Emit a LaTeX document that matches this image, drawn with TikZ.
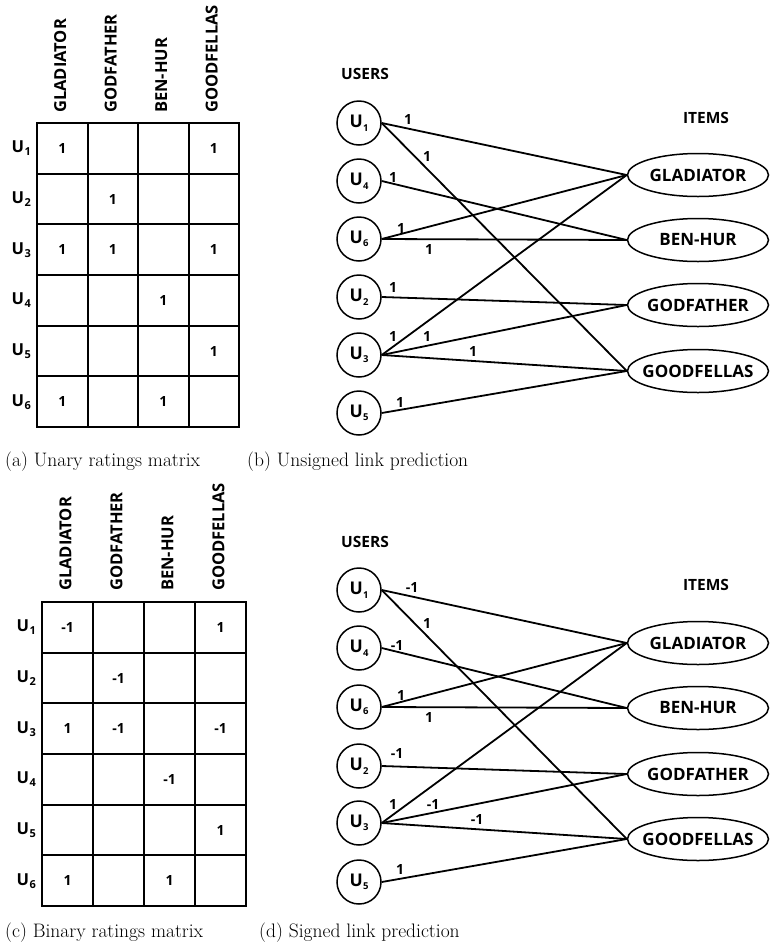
\documentclass[tikz,border=0pt]{standalone}
\usepackage{fontspec}
\newfontfamily\osans{Open Sans}
\usetikzlibrary{shapes.geometric}
\newcommand\usr[3]{U\kern0.3pt\raisebox{-#3pt}{\fontsize{#2}{#2}\selectfont #1}}
\tikzset{
 hdr/.style={font=\osans\bfseries\fontsize{16.5}{16.5}\selectfont, rotate=90, anchor=west, inner sep=0pt},
 cell/.style={draw, line width=2pt, minimum width=50.5pt, minimum height=50.7pt, inner sep=0pt, font=\osans\bfseries\fontsize{14}{14}\selectfont},
 rowlab/.style={font=\osans\bfseries\fontsize{16.5}{16.5}\selectfont, anchor=east, inner sep=0pt},
 user/.style={circle, draw, line width=1.5pt, minimum size=44pt, inner sep=0pt, font=\osans\bfseries\fontsize{17.5}{17.5}\selectfont},
 item/.style={ellipse, draw, line width=1.5pt, minimum width=141pt, minimum height=43pt, inner xsep=-14pt, inner ysep=0pt, font=\osans\bfseries\fontsize{17}{17}\selectfont},
 link/.style={line width=1.8pt},
 wt/.style={font=\osans\bfseries\fontsize{14}{14}\selectfont, inner sep=0pt},
 ttl/.style={font=\osans\bfseries\fontsize{15.5}{15.5}\selectfont, inner sep=0pt},
 capt/.style={font=\fontsize{19.5}{21}\selectfont, anchor=west, inner sep=0pt},
}
\begin{document}
\begin{tikzpicture}[x=1pt,y=-1pt]
\useasboundingbox (0,0) rectangle (772,951);
\fill[white] (0,0) rectangle (772,951);

% ---------- (a) unary matrix ----------
\foreach \c/\t in {1/GLADIATOR,2/GODFATHER,3/BEN-HUR,4/GOODFELLAS}
  \node[hdr] (ah\c) at ({37+50.5*(\c-0.5)-2},113) {\t};
\foreach \r/\a/\b/\cc/\d in {1/1/{}/{}/1, 2/{}/1/{}/{}, 3/1/1/{}/1, 4/{}/{}/1/{}, 5/{}/{}/{}/1, 6/1/{}/1/{}}{
  \node[rowlab] (ar\r) at (31,{123+50.67*(\r-0.5)}) {\usr{\r}{11}{3}};
  \node[cell] (a-\r-1) at ({37+50.5*0.5},{123+50.67*(\r-0.5)}) {\a\hspace{8pt}};
  \node[cell] (a-\r-2) at ({37+50.5*1.5},{123+50.67*(\r-0.5)}) {\b};
  \node[cell] (a-\r-3) at ({37+50.5*2.5},{123+50.67*(\r-0.5)}) {\cc};
  \node[cell] (a-\r-4) at ({37+50.5*3.5},{123+50.67*(\r-0.5)}) {\d};
}
\node[capt] (capa) at (5,462) {(a) Unary ratings matrix};

% ---------- (c) binary matrix ----------
\foreach \c/\t in {1/GLADIATOR,2/GODFATHER,3/BEN-HUR,4/GOODFELLAS}
  \node[hdr] (ch\c) at ({42+51*(\c-0.5)-2},591) {\t};
\foreach \r/\a/\b/\cc/\d in {1/-1/{}/{}/1, 2/{}/-1/{}/{}, 3/1/-1/{}/-1, 4/{}/{}/-1/{}, 5/{}/{}/{}/1, 6/1/{}/1/{}}{
  \node[rowlab] (cr\r) at (36,{602+50.67*(\r-0.5)}) {\usr{\r}{11}{3}};
  \node[cell] (c-\r-1) at ({42+51*0.5},{602+50.67*(\r-0.5)}) {\a\hspace{6pt}};
  \node[cell] (c-\r-2) at ({42+51*1.5},{602+50.67*(\r-0.5)}) {\b};
  \node[cell] (c-\r-3) at ({42+51*2.5},{602+50.67*(\r-0.5)}) {\cc};
  \node[cell] (c-\r-4) at ({42+51*3.5},{602+50.67*(\r-0.5)}) {\d};
}
\node[capt] (capc) at (5,933) {(c) Binary ratings matrix};

% ---------- (b) unsigned graph ----------
\node[ttl] (busers) at (365,74) {USERS};
\node[ttl] (bitems) at (706,118) {ITEMS};
\node[user] (bu1) at (359,123) {\usr{1}{9.5}{3.5}};
\node[user] (bu4) at (359,181) {\usr{4}{9.5}{3.5}};
\node[user] (bu6) at (359,239) {\usr{6}{9.5}{3.5}};
\node[user] (bu2) at (359,297) {\usr{2}{9.5}{3.5}};
\node[user] (bu3) at (359,355) {\usr{3}{9.5}{3.5}};
\node[user] (bu5) at (359,413) {\usr{5}{9.5}{3.5}};
\node[item] (bgl) at (698,175) {GLADIATOR};
\node[item] (bbh) at (698,240) {BEN-HUR};
\node[item] (bgf) at (698,305) {GODFATHER};
\node[item] (bgo) at (698,371) {GOODFELLAS};
\draw[link] (bu1.east) -- (bgl.west);
\draw[link] (bu1.east) -- (bgo.west);
\draw[link] (bu4.east) -- (bbh.west);
\draw[link] (bu6.east) -- (bgl.west);
\draw[link] (bu6.east) -- (bbh.west);
\draw[link] (bu2.east) -- (bgf.west);
\draw[link] (bu3.east) -- (bgl.west);
\draw[link] (bu3.east) -- (bgf.west);
\draw[link] (bu3.east) -- (bgo.west);
\draw[link] (bu5.east) -- (bgo.west);
\node[wt] (bw1) at (408,119) {1};
\node[wt] (bw2) at (427,156) {1};
\node[wt] (bw3) at (393,177) {1};
\node[wt] (bw4) at (401,228) {1};
\node[wt] (bw5) at (429,249) {1};
\node[wt] (bw6) at (393,287) {1};
\node[wt] (bw7) at (393,336) {1};
\node[wt] (bw8) at (427,336) {1};
\node[wt] (bw9) at (473,351) {1};
\node[wt] (bw10) at (400,402) {1};
\node[capt] (capb) at (247,462) {(b) Unsigned link prediction};

% ---------- (d) signed graph ----------
\node[ttl] (dusers) at (365,542) {USERS};
\node[ttl] (ditems) at (706,585) {ITEMS};
\node[user] (du1) at (359,590) {\usr{1}{9.5}{3.5}};
\node[user] (du4) at (359,648) {\usr{4}{9.5}{3.5}};
\node[user] (du6) at (359,707) {\usr{6}{9.5}{3.5}};
\node[user] (du2) at (359,766) {\usr{2}{9.5}{3.5}};
\node[user] (du3) at (359,823) {\usr{3}{9.5}{3.5}};
\node[user] (du5) at (359,882) {\usr{5}{9.5}{3.5}};
\node[item] (dgl) at (698,643) {GLADIATOR};
\node[item] (dbh) at (698,708) {BEN-HUR};
\node[item] (dgf) at (698,774) {GODFATHER};
\node[item] (dgo) at (698,839) {GOODFELLAS};
\draw[link] (du1.east) -- (dgl.west);
\draw[link] (du1.east) -- (dgo.west);
\draw[link] (du4.east) -- (dbh.west);
\draw[link] (du6.east) -- (dgl.west);
\draw[link] (du6.east) -- (dbh.west);
\draw[link] (du2.east) -- (dgf.west);
\draw[link] (du3.east) -- (dgl.west);
\draw[link] (du3.east) -- (dgf.west);
\draw[link] (du3.east) -- (dgo.west);
\draw[link] (du5.east) -- (dgo.west);
\node[wt] (dw1) at (412,587) {-1};
\node[wt] (dw2) at (427,623) {1};
\node[wt] (dw3) at (397,645) {-1};
\node[wt] (dw4) at (401,695) {1};
\node[wt] (dw5) at (429,717) {1};
\node[wt] (dw6) at (397,753) {-1};
\node[wt] (dw7) at (393,804) {1};
\node[wt] (dw8) at (433,804) {-1};
\node[wt] (dw9) at (477,819) {-1};
\node[wt] (dw10) at (400,869) {1};
\node[capt] (capd) at (259,933) {(d) Signed link prediction};
\end{tikzpicture}
\end{document}
